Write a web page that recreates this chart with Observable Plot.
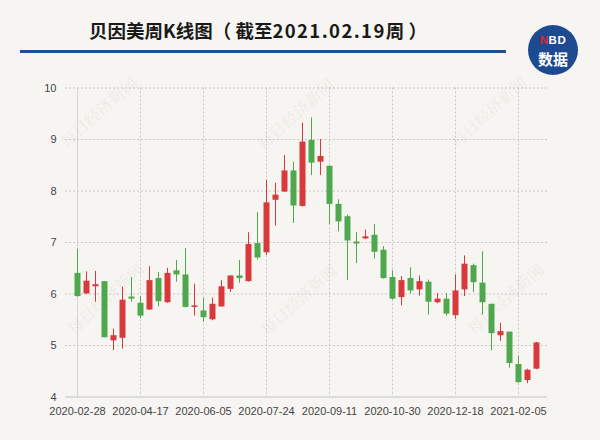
<!DOCTYPE html>
<html><head><meta charset="utf-8">
<script src="https://cdn.jsdelivr.net/npm/d3@7"></script>
<script src="https://cdn.jsdelivr.net/npm/@observablehq/plot@0.6"></script>
<style>
html,body{margin:0;padding:0;background:#f7f5f1;}
#page{position:relative;width:600px;height:440px;overflow:hidden;background:#f7f5f1;font-family:"Noto Sans CJK SC","Noto Sans",sans-serif;}
#title{position:absolute;left:89px;top:18px;font-size:18.5px;font-weight:bold;color:#1a1a1a;white-space:pre;line-height:24px;}
#title .d{letter-spacing:1.4px;}
#bar{position:absolute;left:20px;top:50px;width:486px;height:3px;background:#1f4f8f;}
#logo{position:absolute;left:528px;top:25px;width:50px;height:50px;border-radius:50%;background:#1d4a91;color:#fff;text-align:center;}
#logo .n{position:absolute;left:0;top:10px;width:50px;font-family:"Liberation Sans",sans-serif;font-weight:bold;font-size:11.5px;line-height:11px;letter-spacing:0.5px;}
#logo .n span{color:#e3262c;}
#logo .s{position:absolute;left:0;top:26px;width:50px;font-weight:bold;font-size:15px;line-height:16px;}
#chart{position:absolute;left:0;top:70px;}
.wm{position:absolute;font-family:"Noto Serif CJK SC","Noto Sans CJK SC",serif;font-size:16px;color:#000;opacity:0.045;transform:rotate(-42deg);white-space:nowrap;pointer-events:none;}
</style></head>
<body><div id="page">
<div id="title">贝因美周K线图（ 截至<span class="d">2021.02.19</span>周 ）</div>
<div id="bar"></div>
<div id="logo"><div class="n"><span>N</span>BD</div><div class="s">数据</div></div>
<div id="chart"></div>
</div>
<script>
const dates = ["2020-02-28","2020-03-06","2020-03-13","2020-03-20","2020-03-27","2020-04-03","2020-04-10","2020-04-17","2020-04-24","2020-05-01","2020-05-08","2020-05-15","2020-05-22","2020-05-29","2020-06-05","2020-06-12","2020-06-19","2020-06-26","2020-07-03","2020-07-10","2020-07-17","2020-07-24","2020-07-31","2020-08-07","2020-08-14","2020-08-21","2020-08-28","2020-09-04","2020-09-11","2020-09-18","2020-09-25","2020-10-02","2020-10-09","2020-10-16","2020-10-23","2020-10-30","2020-11-06","2020-11-13","2020-11-20","2020-11-27","2020-12-04","2020-12-11","2020-12-18","2020-12-25","2021-01-01","2021-01-08","2021-01-15","2021-01-22","2021-01-29","2021-02-05","2021-02-12","2021-02-19"];
const openP  = [6.40,6.00,6.14,6.24,5.09,5.14,5.94,5.82,5.69,6.30,5.83,6.45,6.37,5.74,5.67,5.50,5.75,6.09,6.35,6.24,6.98,6.80,7.82,7.98,8.39,7.70,8.98,8.56,8.48,7.74,7.50,7.01,7.07,7.14,6.85,6.32,5.93,6.30,6.08,6.23,5.83,5.90,5.58,6.08,6.55,6.21,5.80,5.19,5.26,4.63,4.32,4.54];
const closeP = [5.95,6.25,6.18,5.15,5.19,5.88,5.90,5.57,6.26,5.85,6.40,6.37,5.74,5.77,5.54,5.80,6.14,6.35,6.30,6.96,6.70,7.77,7.92,8.39,7.71,8.95,8.54,8.67,7.74,7.40,7.03,6.97,7.11,6.81,6.30,5.90,6.26,6.06,6.24,5.84,5.90,5.61,6.06,6.58,6.22,5.83,5.23,5.27,4.65,4.28,4.52,5.05];
const highP  = [6.87,6.43,6.44,6.24,5.32,6.13,6.32,5.95,6.53,6.42,6.50,6.65,6.88,6.19,5.92,5.92,6.26,6.35,6.65,7.19,7.58,8.21,8.15,8.69,8.56,9.32,9.42,9.00,8.48,7.83,7.53,7.19,7.24,7.35,6.92,6.45,6.34,6.51,6.35,6.27,6.01,6.01,6.37,6.74,6.58,6.82,5.80,5.43,5.26,4.79,4.54,5.06];
const lowP   = [5.94,5.99,5.84,5.15,4.90,4.93,5.84,5.52,5.68,5.75,5.82,6.23,5.73,5.57,5.45,5.48,5.74,6.03,6.21,6.23,6.66,6.75,7.32,7.97,7.37,7.69,8.30,8.30,7.35,7.21,6.26,6.59,7.06,6.68,6.29,5.88,5.77,6.00,5.96,5.59,5.81,5.57,5.51,5.95,6.03,5.59,4.90,5.08,4.56,4.26,4.26,4.53];
const xTicks = ["2020-02-28","2020-04-17","2020-06-05","2020-07-24","2020-09-11","2020-10-30","2020-12-18","2021-02-05"];
const yTicks = [4,5,6,7,8,9,10];

const UP = "#d8393b", DOWN = "#4fa84d";
const rows = dates.map((d,i)=>({date:d, open:openP[i], close:closeP[i], high:highP[i], low:lowP[i]}));
const up = rows.filter(r=>r.close>=r.open), down = rows.filter(r=>r.close<r.open);

const chart = Plot.plot({
  width:600, height:360,
  marginTop:17.5, marginBottom:33.5, marginLeft:65, marginRight:53,
  style:{background:"transparent", fontFamily:"'Liberation Sans',Arial,sans-serif", fontSize:"11px", color:"#444", overflow:"visible"},
  x:{type:"point", domain:dates, label:null},
  y:{domain:[4,10], label:null},
  marks:[
    Plot.gridY(yTicks.slice(1), {stroke:"#c8c8c8", strokeOpacity:1, strokeDasharray:"2,2"}),
    Plot.gridX(xTicks.slice(1), {stroke:"#c8c8c8", strokeOpacity:1, strokeDasharray:"2,2"}),
    Plot.ruleX([dates[0]], {stroke:"#d4d4d4", strokeWidth:1}),
    Plot.ruleY([4], {stroke:"#dcdcdc", strokeWidth:2}),
    Plot.axisY({ticks:yTicks, tickSize:0, tickPadding:9, tickFormat:d=>String(d), fill:"#444"}),
    Plot.axisX({ticks:xTicks, tickSize:0, tickPadding:10, tickFormat:d=>d, fill:"#444"}),
    Plot.ruleX(up, {x:"date", y1:"low", y2:"high", stroke:UP, strokeWidth:1}),
    Plot.ruleX(down, {x:"date", y1:"low", y2:"high", stroke:DOWN, strokeWidth:1}),
    Plot.ruleX(up, {x:"date", y1:"open", y2:"close", stroke:UP, strokeWidth:6}),
    Plot.ruleX(down, {x:"date", y1:"open", y2:"close", stroke:DOWN, strokeWidth:6})
  ]
});
document.getElementById("chart").appendChild(chart);

// faint watermarks
const wmPos = [[50,100],[57,287],[247,102],[250,288],[440,100],[457,287]];
const page = document.getElementById("page");
wmPos.forEach(([x,y])=>{const el=document.createElement("div");el.className="wm";el.textContent="每日经济新闻";el.style.left=x+"px";el.style.top=y+"px";page.appendChild(el);});
</script>
</body></html>
